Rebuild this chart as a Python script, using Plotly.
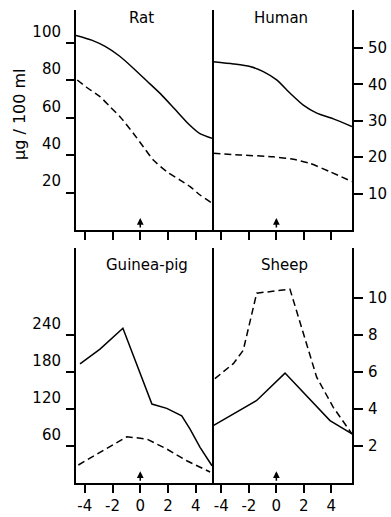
import plotly.graph_objects as go

# ---------------- data ----------------
rat_solid_x = [-4.63, -3.5, -2.5, -1.5, -0.5, 0.5, 1.5, 2.5, 3.5, 4.3, 5.17]
rat_solid_y = [104, 101.5, 98, 93, 86.5, 79.5, 72.5, 64.5, 56.5, 51.5, 49]
rat_dash_x = [-4.54, -3.87, -2.90, -2.18, -1.46, -0.50, 0.22, 0.94, 1.91, 2.87, 3.59, 4.31, 5.17]
rat_dash_y = [80.2, 76.3, 71.3, 65.9, 60.6, 51.7, 44.5, 37.4, 31.2, 26.7, 23.2, 18.7, 14.4]

human_solid_x = [-4.59, -3.13, -1.92, -0.95, 0.02, 0.99, 1.96, 2.94, 4.15, 5.5]
human_solid_y = [46.2, 45.6, 44.9, 43.5, 41.2, 37.6, 34.3, 32.1, 30.5, 28.4]
human_dash_x = [-4.59, -2.65, -0.23, 1.24, 2.44, 3.90, 5.5]
human_dash_y = [21.1, 20.6, 20.1, 19.4, 18.3, 16.0, 13.3]

gp_solid_x = [-4.34, -2.90, -1.25, 0.84, 1.91, 2.99, 3.59, 4.31, 5.17]
gp_solid_y = [193, 217, 251, 128, 121, 109, 87.5, 57.8, 28]
gp_dash_x = [-4.46, -2.90, -0.97, 0.47, 1.91, 3.35, 4.31, 5.03]
gp_dash_y = [29.2, 49.8, 75, 71.3, 55.1, 36.1, 25.4, 17.8]

sheep_solid_x = [-4.59, -2.65, -1.43, 0.63, 3.90, 5.5]
sheep_solid_y = [3.10, 3.95, 4.46, 5.94, 3.37, 2.65]
sheep_dash_x = [-4.47, -3.13, -2.41, -1.43, 0.99, 1.96, 2.93, 4.14, 5.5]
sheep_dash_y = [5.64, 6.45, 7.17, 10.26, 10.47, 8.08, 5.72, 4.09, 2.65]

x_ticks = [-4, -2, 0, 2, 4]
x_ticktext = ["-4", "-2", "0", "2", "4"]
rat_ticks = [20, 40, 60, 80, 100]
human_ticks = [10, 20, 30, 40, 50]
gp_ticks = [60, 120, 180, 240]
sheep_ticks = [2, 4, 6, 8, 10]
titles = ["Rat", "Human", "Guinea-pig", "Sheep"]
y_title = "μg / 100 ml"

# ---------------- figure ----------------
W, H = 391, 517
FONT = "DejaVu Sans"
fig = go.Figure()

def add(x, y, xa, ya, dash, shape):
    fig.add_trace(go.Scatter(
        x=x, y=y, xaxis=xa, yaxis=ya, mode="lines",
        line=dict(color="black", width=1.5,
                  dash=("7px,4px" if dash else "solid"), shape=shape,
                  smoothing=0.6),
        showlegend=False, hoverinfo="skip"))

add(rat_solid_x, rat_solid_y, "x", "y", False, "spline")
add(rat_dash_x, rat_dash_y, "x", "y", True, "spline")
add(human_solid_x, human_solid_y, "x2", "y2", False, "spline")
add(human_dash_x, human_dash_y, "x2", "y2", True, "spline")
add(gp_solid_x, gp_solid_y, "x3", "y3", False, "linear")
add(gp_dash_x, gp_dash_y, "x3", "y3", True, "linear")
add(sheep_solid_x, sheep_solid_y, "x4", "y4", False, "linear")
add(sheep_dash_x, sheep_dash_y, "x4", "y4", True, "linear")

def px_x(p):
    return p / W

def px_y(p):
    return 1 - p / H

left_dom = [px_x(76), px_x(212)]
right_dom = [px_x(212), px_x(352)]
top_dom = [px_y(230), px_y(10)]
bot_dom = [px_y(483), px_y(248)]

tickfont = dict(family=FONT, size=15, color="black")

def xax(dom, anchor, rng, labels):
    return dict(domain=dom, anchor=anchor, range=rng, showgrid=False, zeroline=False,
                showline=True, linecolor="black", linewidth=2, automargin=False,
                ticks="outside", ticklen=8, tickwidth=2, tickcolor="black",
                tickvals=x_ticks, ticktext=x_ticktext, showticklabels=labels,
                ticklabelstandoff=0,
                tickfont=tickfont, fixedrange=True)

def yax(dom, anchor, rng, tv, side, mirror):
    d = dict(domain=dom, anchor=anchor, range=rng, showgrid=False, zeroline=False,
             showline=True, linecolor="black", linewidth=2, mirror=mirror,
             automargin=False,
             ticks="outside", tickwidth=2, tickcolor="black",
             tickvals=tv, ticktext=[str(v) for v in tv],
             tickfont=tickfont, side=side, fixedrange=True)
    if side == "left":
        d["ticklen"] = 8
        d["ticklabelposition"] = "outside top"
        d["ticklabelstandoff"] = 10
    else:
        d["ticklen"] = 9
        d["ticklabelstandoff"] = 2
    return d

L_RANGE = [-4.63, 5.17]
R_RANGE = [-4.68, 5.50]

fig.update_layout(
    width=W, height=H,
    margin=dict(l=0, r=0, t=0, b=0),
    paper_bgcolor="white", plot_bgcolor="white",
    font=dict(family=FONT, color="black"),
    xaxis=xax(left_dom, "y", L_RANGE, False),
    xaxis2=xax(right_dom, "y2", R_RANGE, False),
    xaxis3=xax(left_dom, "y3", L_RANGE, True),
    xaxis4=xax(right_dom, "y4", R_RANGE, True),
    yaxis=yax(top_dom, "x", [0, 117.6], rat_ticks, "left", True),
    yaxis2=yax(top_dom, "x2", [0, 60.4], human_ticks, "right", False),
    yaxis3=yax(bot_dom, "x3", [0, 381], gp_ticks, "left", True),
    yaxis4=yax(bot_dom, "x4", [0, 12.7], sheep_ticks, "right", False),
)

annotations = []
# panel titles
for t, (cx, cy) in zip(titles, [(141, 18), (281, 18), (147, 265), (284, 265)]):
    annotations.append(dict(text=t, x=px_x(cx), y=px_y(cy), xref="paper", yref="paper",
                            showarrow=False, xanchor="center", yanchor="middle",
                            font=dict(family=FONT, size=15, color="black")))
# y title
annotations.append(dict(text=y_title, x=px_x(19), y=px_y(114), xref="paper", yref="paper",
                        showarrow=False, textangle=-90, xanchor="center", yanchor="middle",
                        font=dict(family=FONT, size=16, color="black")))
# arrows at time zero
for xr, yr in [("x", "y"), ("x2", "y2"), ("x3", "y3"), ("x4", "y4")]:
    annotations.append(dict(text="", x=0, y=0.055 if yr in ("y", "y2") else 0.05,
                            xref=xr, yref=yr + " domain",
                            showarrow=True, ax=0, ay=11, axref="pixel", ayref="pixel",
                            arrowhead=2, arrowsize=0.9, arrowwidth=1.5, arrowcolor="black"))
fig.update_layout(annotations=annotations)

fig.write_html("out.html", config={"displayModeBar": False},
               post_script="document.body.style.margin='0';")
